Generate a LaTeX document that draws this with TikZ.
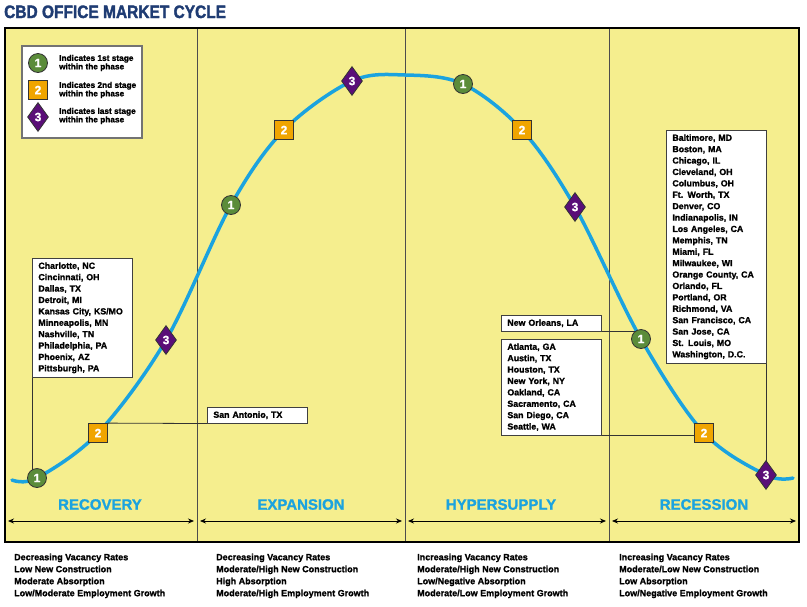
\documentclass[tikz,border=0pt]{standalone}
\usepackage{fontspec}
\setmainfont{Liberation Sans}[BoldFeatures={FakeBold=1.3}]
\newfontfamily\titlefont{Liberation Sans}[FakeStretch=0.86, BoldFeatures={FakeBold=1.8}]
\usetikzlibrary{arrows.meta}
\usetikzlibrary{shapes.geometric}
\usetikzlibrary{backgrounds}
\definecolor{panelyellow}{HTML}{F5EE8E}
\definecolor{cycleblue}{HTML}{1BA3DF}
\definecolor{titleblue}{HTML}{1F3C73}
\definecolor{stagegreen}{HTML}{5B8C3A}
\definecolor{stageorange}{HTML}{F0A500}
\definecolor{stagepurple}{HTML}{5A0E78}
\newcommand{\curvewidth}{3.5pt}
\newcommand{\framewidth}{1.6pt}
\newcommand{\stagecoords}{
	\coordinate (P0) at (12, 480);
	\coordinate (P1) at (37, 478);
	\coordinate (P2) at (98, 433);
	\coordinate (P3) at (166, 340);
	\coordinate (P4) at (231, 205);
	\coordinate (P5) at (284, 130);
	\coordinate (P6) at (352, 81);
	\coordinate (Ptop) at (405, 75);
	\coordinate (P7) at (463, 84);
	\coordinate (P8) at (522, 130);
	\coordinate (P9) at (575, 207);
	\coordinate (P10) at (641, 339);
	\coordinate (P11) at (704, 433);
	\coordinate (P12) at (766, 475);
	\coordinate (P13) at (793, 478);
}
\tikzset{
	stage/.style={inner sep=0, text=white, draw=black!80, line width=0.8pt,
		font=\bfseries\fontsize{12}{12}\selectfont},
	stageone/.style={stage, circle, fill=stagegreen, minimum size=19pt},
	stagetwo/.style={stage, rectangle, fill=stageorange, minimum size=19pt},
	stagethree/.style={stage, diamond, fill=stagepurple, minimum width=21pt, minimum height=29pt},
	citybox/.style={draw=black!75, fill=white, line width=0.8pt, anchor=north west,
		inner xsep=6pt, inner ysep=4pt, text width=88pt, align=left,
		font=\bfseries\fontsize{8.8}{11.4}\selectfont},
	connector/.style={draw=black!80, line width=0.8pt},
	legendtext/.style={anchor=west, inner sep=0, align=left,
		font=\bfseries\fontsize{8.3}{8.5}\selectfont},
	phase/.style={text=cycleblue, inner sep=0, font=\bfseries\fontsize{15}{15}\selectfont},
	traits/.style={anchor=north west, inner sep=0, align=left,
		font=\bfseries\fontsize{9}{12}\selectfont},
	phasearrow/.style={line width=0.8pt, {Stealth[length=6pt,width=5pt]}-{Stealth[length=6pt,width=5pt]}}
}

\begin{document}
\begin{tikzpicture}[x=1pt, y=-1pt]
	\useasboundingbox (0, 0) rectangle (807, 606);
	\stagecoords

	\begin{scope}[on background layer]
		\fill[panelyellow] (5, 28) rectangle (799, 542);
		\draw[black!70, line width=0.9pt] (197, 28) -- (197, 542);
		\draw[black!70, line width=0.9pt] (405, 28) -- (405, 542);
		\draw[black!70, line width=0.9pt] (609, 28) -- (609, 542);
	\end{scope}

	\node[anchor=base west, inner sep=0, text=titleblue,
		font=\titlefont\bfseries\fontsize{18}{18}\selectfont] (title) at (4, 18) {CBD OFFICE MARKET CYCLE};

	% legend
	\node[draw=black!55, fill=white, line width=1.2pt, minimum width=120pt, minimum height=92pt]
		(legend) at (82, 92) {};
	\node[stageone] (key1) at (38, 63) {1};
	\node[stagetwo] (key2) at (38, 90) {2};
	\node[stagethree] (key3) at (38, 117) {3};
	\node[legendtext] at (59, 63) {Indicates 1st stage\\within the phase};
	\node[legendtext] at (59, 90) {Indicates 2nd stage\\within the phase};
	\node[legendtext] at (59, 116) {Indicates last stage\\within the phase};

	% city lists
	\node[citybox] (recovery) at (32, 258) {Charlotte, NC\\Cincinnati, OH\\Dallas, TX\\Detroit, MI\\Kansas City, KS/MO\\Minneapolis, MN\\Nashville, TN\\Philadelphia, PA\\Phoenix, AZ\\Pittsburgh, PA};
	\node[citybox] (sanantonio) at (207, 407) {San Antonio, TX};
	\node[citybox] (neworleans) at (501, 315) {New Orleans, LA};
	\node[citybox] (hyper) at (501, 339) {Atlanta, GA\\Austin, TX\\Houston, TX\\New York, NY\\Oakland, CA\\Sacramento, CA\\San Diego, CA\\Seattle, WA};
	\node[citybox] (recession) at (666, 130) {Baltimore, MD\\Boston, MA\\Chicago, IL\\Cleveland, OH\\Columbus, OH\\Ft. Worth, TX\\Denver, CO\\Indianapolis, IN\\Los Angeles, CA\\Memphis, TN\\Miami, FL\\Milwaukee, WI\\Orange County, CA\\Orlando, FL\\Portland, OR\\Richmond, VA\\San Francisco, CA\\San Jose, CA\\St. Louis, MO\\Washington, D.C.};

	% stages on the curve
	\node[stageone] (s1) at (P1) {1};
	\node[stagetwo] (s2) at (P2) {2};
	\node[stagethree] (s3) at (P3) {3};
	\node[stageone] (s4) at (P4) {1};
	\node[stagetwo] (s5) at (P5) {2};
	\node[stagethree] (s6) at (P6) {3};
	\node[stageone] (s7) at (P7) {1};
	\node[stagetwo] (s8) at (P8) {2};
	\node[stagethree] (s9) at (P9) {3};
	\node[stageone] (s10) at (P10) {1};
	\node[stagetwo] (s11) at (P11) {2};
	\node[stagethree] (s12) at (P12) {3};

	\begin{scope}[on background layer]
		\draw[cycleblue, line width=\curvewidth, line cap=round]
			plot[smooth, tension=0.55] coordinates {(P0) (P1) (P2) (P3) (P4) (P5) (P6) (Ptop) (P7) (P8) (P9) (P10) (P11) (P12) (P13)};
		\draw[connector] (recovery.south west) -- (recovery.south west |- s1.center);
		\draw[connector] (sanantonio.south west) -- (s2.north east);
		\draw[connector] (neworleans.south east) -- (neworleans.south east -| s10.center);
		\draw[connector] (hyper.south east) -- (hyper.south east -| s11.center);
		\draw[connector] (recession.south east) -- (recession.south east |- s12.center);
	\end{scope}

	% phases
	\node[phase] (recoverylabel) at (100, 504.5) {RECOVERY};
	\node[phase] (expansionlabel) at (301, 504.5) {EXPANSION};
	\node[phase] (hyperlabel) at (501, 504.5) {HYPERSUPPLY};
	\node[phase] (recessionlabel) at (704, 504.5) {RECESSION};

	\draw[phasearrow] (8, 521) -- (194, 521);
	\draw[phasearrow] (200, 521) -- (402, 521);
	\draw[phasearrow] (408, 521) -- (606, 521);
	\draw[phasearrow] (612, 521) -- (796, 521);

	\draw[line width=\framewidth] (5, 28) rectangle (799, 542);
	\draw[line width=2.6pt] (4.2, 542) -- (799.8, 542);

	\node[traits] (recoverytraits) at (14, 553.5) {Decreasing Vacancy Rates\\Low New Construction\\Moderate Absorption\\Low/Moderate Employment Growth};
	\node[traits] (expansiontraits) at (216, 553.5) {Decreasing Vacancy Rates\\Moderate/High New Construction\\High Absorption\\Moderate/High Employment Growth};
	\node[traits] (hypertraits) at (417, 553.5) {Increasing Vacancy Rates\\Moderate/High New Construction\\Low/Negative Absorption\\Moderate/Low Employment Growth};
	\node[traits] (recessiontraits) at (619, 553.5) {Increasing Vacancy Rates\\Moderate/Low New Construction\\Low Absorption\\Low/Negative Employment Growth};
\end{tikzpicture}
\end{document}
